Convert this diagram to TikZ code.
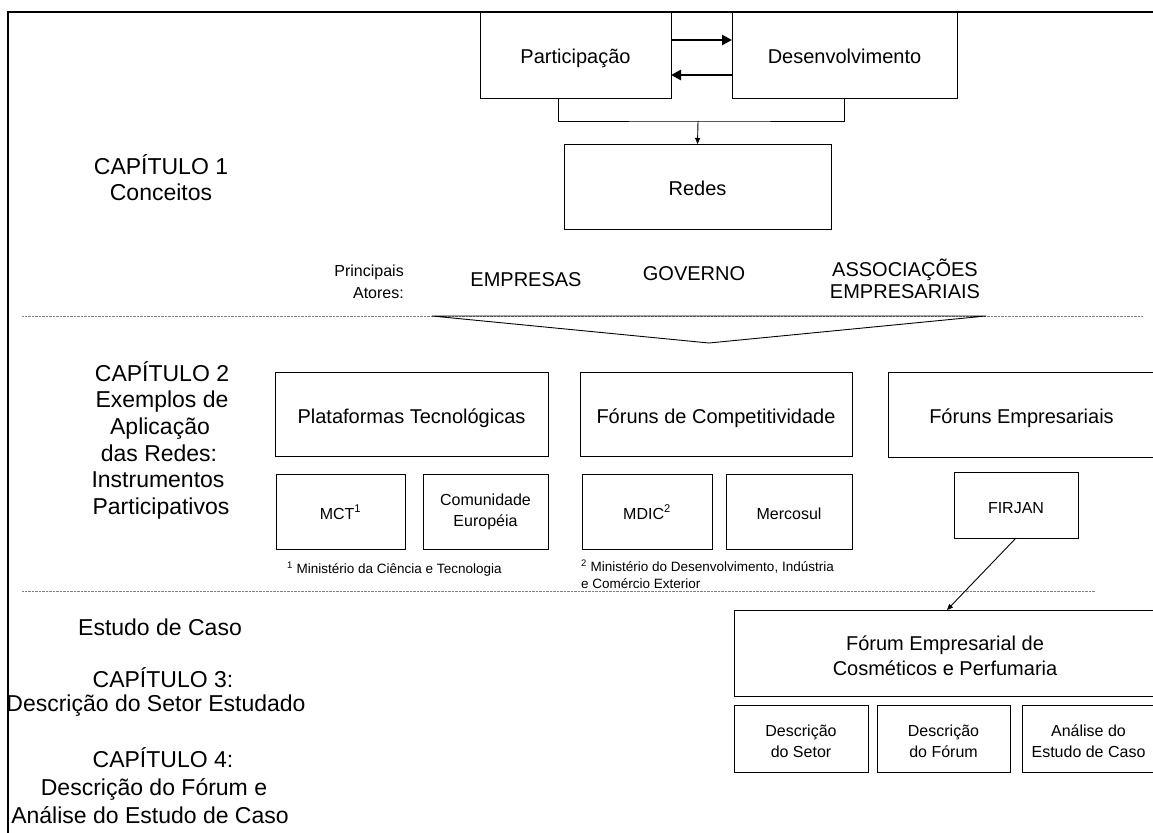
\documentclass[tikz,border=0pt]{standalone}
\usepackage{fontspec}
\setmainfont{Liberation Sans}
\usetikzlibrary{arrows.meta}
\tikzset{
  bx/.style={draw, line width=0.9pt, inner sep=0pt, outer sep=0pt},
  bigtxt/.style={font=\fontsize{20}{25}\selectfont},
  bigone/.style={bigtxt, text height=18.5pt, text depth=0.5pt},
  smltxt/.style={font=\fontsize{16}{21}\selectfont},
  smlone/.style={smltxt, text height=15pt, text depth=0pt},
  chap/.style={font=\fontsize{23}{27}\selectfont, anchor=base, inner sep=0pt},
  actor/.style={font=\fontsize{20}{22}\selectfont, inner sep=0pt, align=center},
  fnote/.style={font=\fontsize{13.5}{17}\selectfont, anchor=west, align=left, inner sep=0pt},
  dotline/.style={gray, line width=0.6pt, dash pattern=on 0.7pt off 0.7pt},
  bigarrow/.style={line width=2.6pt, -{Triangle[length=10pt,width=10pt]}},
  smlarrow/.style={line width=0.9pt, -{Triangle[length=6pt,width=5pt]}},
  frameline/.style={line width=1.3pt},
  plain/.style={line width=0.9pt}
}
\newcommand{\toprule}[1]{\rule{0pt}{#1}}
\begin{document}
\begin{tikzpicture}[x=1pt,y=-1pt]
\useasboundingbox (0,0) rectangle (1153,832);
\clip (0,0) rectangle (1153,832);
% frame
\draw[frameline] (8,840) -- (8,12) -- (1170,12);
% dotted separators
\draw[dotline] (22,316) -- (1143,316);
\draw[dotline] (22,591) -- (1095,591);

% chapter 1
\node[bx,bigone,minimum width=191pt,minimum height=86pt] (part) at (575.5,55) {Participação};
\node[bx,bigone,minimum width=225pt,minimum height=86pt] (desenv) at (844.5,55) {Desenvolvimento};
\node[bx,bigone,minimum width=267pt,minimum height=85pt] (redes) at (697.5,186.5) {Redes};
\draw[bigarrow] ([yshift=15pt]part.east) -- ([yshift=15pt]desenv.west);
\draw[bigarrow] ([yshift=-20pt]desenv.west) -- ([yshift=-20pt]part.east);
\coordinate (junc) at (698,121);
\draw[plain] ([xshift=-17.5pt]part.south) |- (junc) -| (desenv.south);
\draw[smlarrow] (junc) -- (redes.north);

\node[chap] (c1a) at (161,174) {CAPÍTULO 1};
\node[chap] (c1b) at (161,200) {Conceitos};

% actors
\node[font=\fontsize{16}{22}\selectfont, align=right, anchor=east, inner sep=0pt] (princ) at (404,282) {Principais\\Atores:};
\node[actor] (emp) at (526,280) {EMPRESAS};
\node[actor] (gov) at (694,274) {GOVERNO};
\node[actor] (assoc) at (905,279) {ASSOCIAÇÕES\\EMPRESARIAIS};

% funnel
\draw[plain] (432,316) -- (986,316) -- (709,343) -- cycle;

% chapter 2
\node[chap] (c2a) at (162,381) {CAPÍTULO 2};
\node[chap] (c2b) at (162,407.5) {Exemplos de};
\node[chap] (c2c) at (160,434) {Aplicação};
\node[chap] (c2d) at (159,461) {das Redes:};
\node[chap] (c2e) at (158,487.5) {Instrumentos};
\node[chap] (c2f) at (161,514) {Participativos};

\node[bx,bigone,minimum width=273pt,minimum height=84pt] (plat) at (411.5,414) {Plataformas Tecnológicas};
\node[bx,bigone,minimum width=272pt,minimum height=84pt] (forc) at (716,414) {Fóruns de Competitividade};
\node[bx,bigone,minimum width=267pt,minimum height=85pt] (fore) at (1021.5,414.5) {Fóruns Empresariais};

\node[bx,smlone,minimum width=129pt,minimum height=75pt] (mct) at (340.5,511.5) {MCT\textsuperscript{1}};
\node[bx,smltxt,align=center,minimum width=125pt,minimum height=75pt] (comu) at (485.5,511.5) {Comunidade\\Européia};
\node[bx,smlone,minimum width=130pt,minimum height=75pt] (mdic) at (647,511.5) {MDIC\textsuperscript{2}};
\node[bx,smlone,minimum width=126pt,minimum height=75pt] (merc) at (789,511.5) {Mercosul};
\node[bx,smltxt,text height=17pt,text depth=0pt,minimum width=124pt,minimum height=66pt] (firjan) at (1016,505) {FIRJAN};

\node[fnote] (fn1) at (287,569) {\textsuperscript{1} Ministério da Ciência e Tecnologia};
\node[fnote] (fn2) at (581,574) {\textsuperscript{2} Ministério do Desenvolvimento, Indústria\\e Comércio Exterior};

% case study
\node[chap] (c3a) at (160,635) {Estudo de Caso};
\node[chap] (c3b) at (163,687) {CAPÍTULO 3:};
\node[chap] (c3c) at (156,711) {Descrição do Setor Estudado};
\node[chap] (c4a) at (163,767) {CAPÍTULO 4:};
\node[chap] (c4b) at (154,795) {Descrição do Fórum e};
\node[chap] (c4c) at (150,823) {Análise do Estudo de Caso};

\node[bx,bigtxt,align=center,minimum width=422pt,minimum height=86pt] (forum) at (945,653) {\toprule{21pt}Fórum Empresarial de\\Cosméticos e Perfumaria};
\node[bx,smltxt,align=center,minimum width=134pt,minimum height=67pt] (dset) at (801,738.5) {\toprule{18pt}Descrição\\do Setor};
\node[bx,smltxt,align=center,minimum width=133pt,minimum height=67pt] (dfor) at (943.5,738.5) {\toprule{18pt}Descrição\\do Fórum};
\node[bx,smltxt,align=center,minimum width=133pt,minimum height=67pt] (anal) at (1088.5,738.5) {\toprule{18pt}Análise do\\Estudo de Caso};

\draw[smlarrow] (firjan.south) -- ([xshift=2pt]forum.north);
\end{tikzpicture}
\end{document}
